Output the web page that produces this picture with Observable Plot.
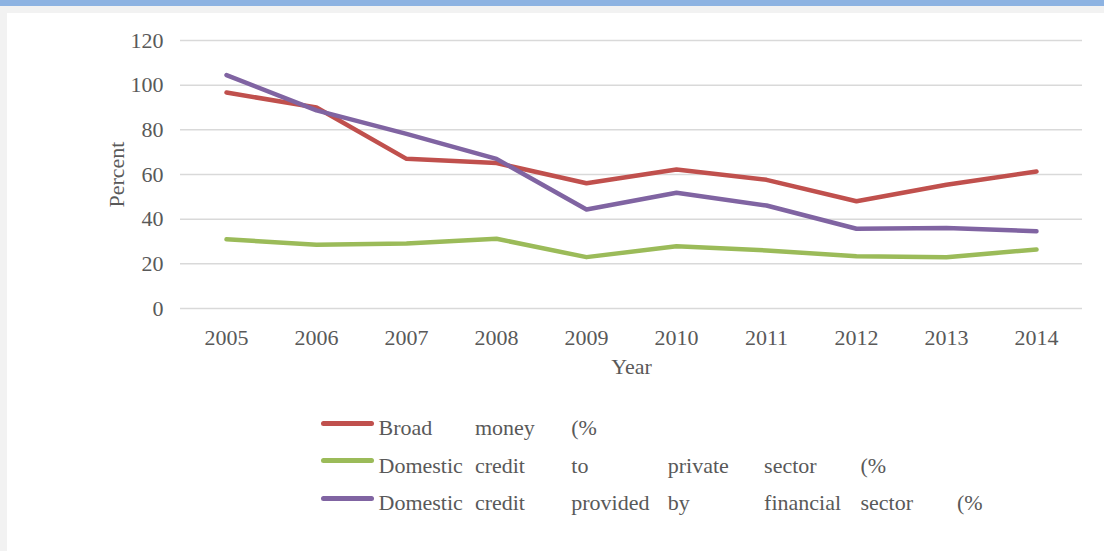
<!DOCTYPE html>
<html>
<head>
<meta charset="utf-8">
<script src="https://cdn.jsdelivr.net/npm/d3@7"></script>
<script src="https://cdn.jsdelivr.net/npm/@observablehq/plot@0.6"></script>
<style>
  html, body { margin: 0; padding: 0; background: #ffffff; width: 1104px; height: 551px; overflow: hidden; position: relative; }
  #topbar { position: absolute; left: 0; top: 0; width: 1104px; height: 6px; background: #8db3e2; }
  #band { position: absolute; left: 0; top: 6px; width: 1104px; height: 7px; background: #f2f2f2; }
  #leftstrip { position: absolute; left: 0; top: 6px; width: 7px; height: 545px; background: #f2f2f2; }
  #chart { position: absolute; left: 0; top: 0; }
  #legend { position: absolute; left: 0; top: 390px; width: 1104px; height: 161px; font-family: "Liberation Serif", serif; font-size: 22px; color: #595959; }
  .sw { position: absolute; height: 5px; border-radius: 3px; }
  .wd { position: absolute; white-space: nowrap; line-height: 1; }
</style>
</head>
<body>
<div id="topbar"></div>
<div id="band"></div>
<div id="leftstrip"></div>
<div id="chart"></div>
<div id="legend"></div>
<script>
const years = ["2005","2006","2007","2008","2009","2010","2011","2012","2013","2014"];
const broadMoney = [96.7, 90.0, 67.0, 65.1, 56.1, 62.2, 57.6, 48.0, 55.4, 61.3];
const privateCredit = [31.0, 28.5, 29.1, 31.2, 23.0, 27.9, 26.0, 23.4, 23.0, 26.4];
const financialCredit = [104.5, 88.7, 78.2, 67.0, 44.3, 51.8, 46.1, 35.7, 36.1, 34.6];
const seriesNames = ["Broad money (%", "Domestic credit to private sector (%", "Domestic credit provided by financial sector (%"];
const seriesColors = ["#c0504d", "#9bbb59", "#8064a2"];
const yTicks = [0, 20, 40, 60, 80, 100, 120];

const allSeries = [broadMoney, privateCredit, financialCredit];
const rows = [];
allSeries.forEach((vals, s) => vals.forEach((v, i) => rows.push({year: years[i], value: v, series: seriesNames[s]})));

const chart = Plot.plot({
  width: 1104,
  height: 390,
  marginLeft: 180,
  marginRight: 22,
  marginTop: 40,
  marginBottom: 82,
  style: {fontFamily: "'Liberation Serif', serif", fontSize: "22px", color: "#595959", background: "transparent"},
  x: {type: "point", domain: years, padding: 0.5, label: null},
  y: {domain: [0, 120], label: null},
  color: {domain: seriesNames, range: seriesColors},
  marks: [
    Plot.ruleY(yTicks, {stroke: "#d9d9d9", strokeWidth: 1.5}),
    Plot.axisY({ticks: yTicks, tickSize: 0, tickPadding: 17, label: null}),
    Plot.axisX({tickSize: 0, tickPadding: 21, label: null}),
    Plot.lineY(rows, {x: "year", y: "value", z: "series", stroke: "series", strokeWidth: 4.5, strokeLinecap: "round", strokeLinejoin: "round"}),
    Plot.text(["Year"], {frameAnchor: "bottom", text: d => d, dy: 65, lineAnchor: "bottom", textAnchor: "middle", fill: "#595959"}),
    Plot.text(["Percent"], {frameAnchor: "left", text: d => d, rotate: -90, dx: -64, textAnchor: "middle", lineAnchor: "middle", fill: "#595959"})
  ]
});
document.getElementById("chart").appendChild(chart);

// Legend below the chart
const legend = document.getElementById("legend");
const colStart = 378.5, colStep = 96.4, rowTop = 30, rowStep = 37.5;
seriesNames.forEach((name, r) => {
  const sw = document.createElement("div");
  sw.className = "sw";
  sw.style.left = "321px";
  sw.style.width = "53px";
  sw.style.top = (rowTop + r * rowStep + 0.5) + "px";
  sw.style.background = seriesColors[r];
  legend.appendChild(sw);
  name.split(" ").forEach((w, c) => {
    const sp = document.createElement("span");
    sp.className = "wd";
    sp.textContent = w;
    sp.style.left = (colStart + c * colStep) + "px";
    sp.style.top = (rowTop + r * rowStep - 3) + "px";
    legend.appendChild(sp);
  });
});
</script>
</body>
</html>
